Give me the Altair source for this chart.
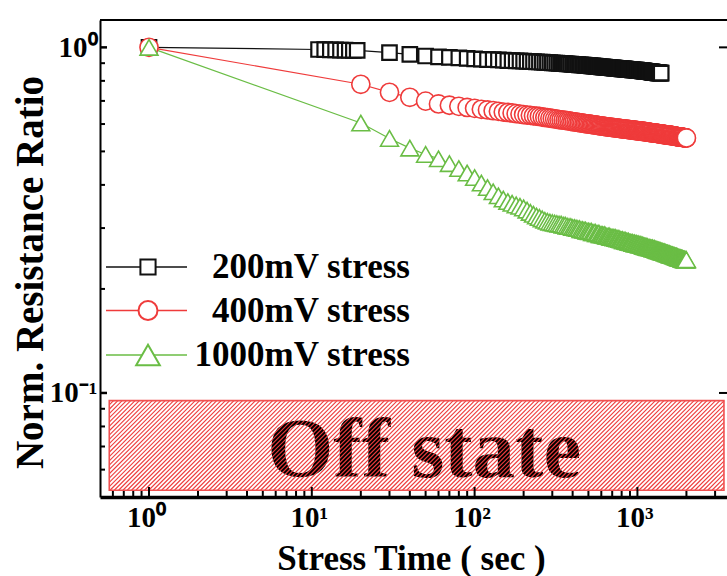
import math
import altair as alt
import pandas as pd

# ---------------- data ----------------
SERIES = ["200mV stress", "400mV stress", "1000mV stress"]
COLORS = ["#111111", "#ef3b3b", "#6abd45"]
SHAPES = ["square", "circle", "triangle-up"]
MARK_SIZES = [210, 330, 320]
MARK_STROKES = [2.2, 1.6, 1.6]
LEGEND_SIZES = [230, 360, 560]

# stress times (s): a reading every 10 s
t_200 = [1, 11, 12, 13, 14, 15, 16, 17, 18, 19] + list(range(30, 1401, 10))
t_400 = [1] + list(range(20, 2001, 10))
t_1000 = [1] + list(range(20, 2001, 10))

r_200 = [
    1.000,
    0.986, 0.985, 0.984, 0.983, 0.982, 0.982, 0.981, 0.980, 0.980,
    0.965, 0.954, 0.944, 0.939, 0.935, 0.932, 0.929, 0.926,
    0.924, 0.922, 0.921, 0.920, 0.918, 0.916, 0.915, 0.914, 0.914, 0.912,
    0.911, 0.910, 0.909, 0.908, 0.907, 0.906, 0.905, 0.904, 0.903, 0.902,
    0.901, 0.900, 0.899, 0.898, 0.897, 0.897, 0.896, 0.895, 0.894, 0.893,
    0.893, 0.892, 0.891, 0.890, 0.890, 0.889, 0.888, 0.887, 0.887, 0.886,
    0.885, 0.884, 0.884, 0.883, 0.882, 0.881, 0.881, 0.880, 0.879, 0.878,
    0.878, 0.877, 0.877, 0.876, 0.875, 0.875, 0.874, 0.873, 0.873, 0.872,
    0.872, 0.871, 0.871, 0.870, 0.870, 0.869, 0.869, 0.868, 0.868, 0.867,
    0.867, 0.866, 0.866, 0.865, 0.865, 0.864, 0.864, 0.863, 0.863, 0.863,
    0.862, 0.862, 0.861, 0.861, 0.860, 0.860, 0.860, 0.859, 0.859, 0.858,
    0.858, 0.858, 0.857, 0.857, 0.856, 0.856, 0.855, 0.855, 0.855, 0.854,
    0.854, 0.853, 0.853, 0.852, 0.852, 0.851, 0.851, 0.850, 0.850, 0.850,
    0.849, 0.849, 0.848, 0.848, 0.847, 0.847, 0.846, 0.846, 0.846, 0.846,
    0.845, 0.845, 0.844, 0.844, 0.844, 0.843, 0.843, 0.843, 0.842, 0.842,
]

r_400 = [
    1.000,
    0.782, 0.741, 0.717, 0.699, 0.686, 0.680, 0.675, 0.670, 0.666,
    0.662, 0.659, 0.656, 0.653, 0.650, 0.648, 0.646, 0.643, 0.641, 0.639,
    0.637, 0.636, 0.634, 0.632, 0.631, 0.629, 0.627, 0.626, 0.624, 0.623,
    0.621, 0.620, 0.618, 0.617, 0.616, 0.615, 0.614, 0.613, 0.611, 0.610,
    0.609, 0.608, 0.607, 0.606, 0.605, 0.604, 0.603, 0.602, 0.601, 0.601,
    0.600, 0.599, 0.598, 0.597, 0.597, 0.596, 0.595, 0.594, 0.593, 0.593,
    0.592, 0.591, 0.591, 0.590, 0.589, 0.589, 0.588, 0.588, 0.587, 0.587,
    0.586, 0.586, 0.585, 0.585, 0.584, 0.584, 0.583, 0.583, 0.582, 0.582,
    0.581, 0.581, 0.580, 0.580, 0.580, 0.579, 0.579, 0.579, 0.578, 0.578,
    0.577, 0.577, 0.577, 0.576, 0.576, 0.576, 0.575, 0.575, 0.574, 0.574,
    0.574, 0.573, 0.573, 0.573, 0.572, 0.572, 0.572, 0.571, 0.571, 0.571,
    0.570, 0.570, 0.570, 0.569, 0.569, 0.569, 0.568, 0.568, 0.568, 0.568,
    0.567, 0.567, 0.567, 0.566, 0.566, 0.566, 0.565, 0.565, 0.565, 0.565,
    0.564, 0.564, 0.564, 0.563, 0.563, 0.563, 0.562, 0.562, 0.562, 0.562,
    0.561, 0.561, 0.561, 0.560, 0.560, 0.560, 0.559, 0.559, 0.559, 0.559,
    0.558, 0.558, 0.558, 0.558, 0.557, 0.557, 0.557, 0.557, 0.556, 0.556,
    0.556, 0.556, 0.555, 0.555, 0.555, 0.555, 0.554, 0.554, 0.554, 0.554,
    0.553, 0.553, 0.553, 0.553, 0.552, 0.552, 0.552, 0.552, 0.551, 0.551,
    0.551, 0.551, 0.550, 0.550, 0.550, 0.550, 0.550, 0.549, 0.549, 0.549,
    0.549, 0.549, 0.548, 0.548, 0.548, 0.548, 0.547, 0.547, 0.547, 0.547,
]

r_1000 = [
    1.000,
    0.604, 0.545, 0.511, 0.490, 0.476, 0.461, 0.446, 0.433, 0.420,
    0.405, 0.393, 0.382, 0.372, 0.364, 0.358, 0.354, 0.350, 0.347, 0.343,
    0.338, 0.333, 0.329, 0.325, 0.322, 0.319, 0.316, 0.314, 0.312, 0.311,
    0.310, 0.309, 0.308, 0.308, 0.306, 0.306, 0.304, 0.303, 0.303, 0.301,
    0.301, 0.300, 0.299, 0.299, 0.297, 0.297, 0.296, 0.296, 0.294, 0.294,
    0.293, 0.294, 0.291, 0.291, 0.292, 0.289, 0.289, 0.290, 0.287, 0.287,
    0.287, 0.286, 0.287, 0.285, 0.284, 0.284, 0.285, 0.283, 0.282, 0.282,
    0.282, 0.281, 0.282, 0.280, 0.280, 0.279, 0.280, 0.278, 0.278, 0.277,
    0.278, 0.276, 0.276, 0.277, 0.275, 0.275, 0.274, 0.275, 0.273, 0.273,
    0.273, 0.272, 0.273, 0.271, 0.271, 0.272, 0.270, 0.270, 0.271, 0.269,
    0.269, 0.270, 0.268, 0.268, 0.269, 0.267, 0.267, 0.268, 0.266, 0.266,
    0.266, 0.265, 0.266, 0.264, 0.265, 0.264, 0.263, 0.264, 0.263, 0.263,
    0.263, 0.262, 0.262, 0.263, 0.261, 0.261, 0.262, 0.260, 0.260, 0.261,
    0.259, 0.260, 0.259, 0.258, 0.259, 0.258, 0.258, 0.257, 0.258, 0.257,
    0.256, 0.257, 0.256, 0.256, 0.255, 0.256, 0.255, 0.254, 0.255, 0.254,
    0.254, 0.253, 0.254, 0.253, 0.253, 0.252, 0.253, 0.252, 0.251, 0.252,
    0.251, 0.251, 0.250, 0.251, 0.250, 0.250, 0.249, 0.250, 0.249, 0.249,
    0.249, 0.248, 0.248, 0.249, 0.247, 0.248, 0.247, 0.247, 0.246, 0.247,
    0.246, 0.246, 0.246, 0.245, 0.246, 0.245, 0.245, 0.244, 0.245, 0.244,
    0.244, 0.244, 0.243, 0.244, 0.243, 0.243, 0.243, 0.242, 0.243, 0.243,
]

assert len(t_200) == len(r_200) and len(t_400) == len(r_400) and len(t_1000) == len(r_1000)

# off-state region (time and ratio bounds) and its label
OFF_T = [0.57, 3400]
OFF_R = [0.0523, 0.095]
OFF_LABEL = "Off state"
OFF_LABEL_POS = [49, 0.057]

X_MAJOR = [1, 10, 100, 1000]
X_MINOR = [0.6, 0.7, 0.8, 0.9, 2, 3, 4, 5, 6, 7, 8, 9, 20, 30, 40, 50, 60, 70, 80, 90,
           200, 300, 400, 500, 600, 700, 800, 900, 2000, 3000]
Y_MAJOR = [0.1, 1]
Y_MINOR = [0.06, 0.07, 0.08, 0.09, 0.2, 0.3, 0.4, 0.5, 0.6, 0.7, 0.8, 0.9]

X_LABELS = ["10⁰", "10¹", "10²", "10³"]
Y_LABELS = ["10⁻¹", "10⁰"]

# ---------------- tables ----------------
rows = []
idx = 0
for name, msize, sw, ts, rs in zip(SERIES, MARK_SIZES, MARK_STROKES,
                                   [t_200, t_400, t_1000], [r_200, r_400, r_1000]):
    for t, r in zip(ts, rs):
        rows.append({"series": name, "t": t, "r": r, "msize": msize, "sw": sw, "idx": idx})
        idx += 1
df = pd.DataFrame(rows)

W, H = 627, 477
FONT = "Liberation Serif"
X_DOMAIN = [0.5, 3550]
Y_DOMAIN = [0.05, 1.2]

xscale = alt.Scale(type="log", domain=X_DOMAIN, nice=False)
yscale = alt.Scale(type="log", domain=Y_DOMAIN, nice=False)
cscale = alt.Scale(domain=SERIES, range=COLORS)
sscale = alt.Scale(domain=SERIES, range=SHAPES)

x_expr = " : ".join(
    f"datum.value == {v} ? '{lab}'" for v, lab in zip(X_MAJOR, X_LABELS)
) + " : ''"
y_expr = " : ".join(
    f"datum.value == {v} ? '{lab}'" for v, lab in zip(Y_MAJOR, Y_LABELS)
) + " : ''"

x_axis = alt.Axis(
    values=X_MAJOR, labelExpr=x_expr, ticks=False, grid=False,
    domainColor="black", domainWidth=3.5,
    labelFont=FONT, labelFontSize=29, labelFontWeight="bold", labelColor="black",
    labelPadding=6, labelOffset=-3, labelFlush=False, labelOverlap=False,
    title="Stress Time ( sec )", titleFont=FONT, titleFontSize=35, titleFontWeight="bold",
    titleColor="black", titleX=311, titleY=61, titleAlign="center", titleBaseline="middle",
)
y_axis = alt.Axis(
    values=Y_MAJOR, labelExpr=y_expr, ticks=False, grid=False,
    domainColor="black", domainWidth=2,
    labelFont=FONT, labelFontSize=29, labelFontWeight="bold", labelColor="black",
    labelPadding=3, labelFlush=False, labelOverlap=False,
    title="Norm. Resistance Ratio", titleFont=FONT, titleFontSize=39, titleFontWeight="bold",
    titleColor="black", titleAngle=-90, titleX=-70, titleY=252, titleAlign="center",
    titleBaseline="middle",
)

# ---------------- hatch lines (decoration of the off-state box, in pixels) ----------------
def _px(t):
    return (math.log10(t) - math.log10(X_DOMAIN[0])) / (math.log10(X_DOMAIN[1]) - math.log10(X_DOMAIN[0])) * W

def _py(r):
    return (math.log10(Y_DOMAIN[1]) - math.log10(r)) / (math.log10(Y_DOMAIN[1]) - math.log10(Y_DOMAIN[0])) * H

bl, br = _px(OFF_T[0]), _px(OFF_T[1])
bt, bb = _py(OFF_R[1]), _py(OFF_R[0])
HATCH_STEP = 4.3
hatch_rows = []
c = bl + bt + HATCH_STEP
while c < br + bb:
    xs = max(bl, c - bb)
    xe = min(br, c - bt)
    if xe > xs:
        hatch_rows.append({"hx": xs, "hy": c - xs, "hx2": xe, "hy2": c - xe})
    c += HATCH_STEP
hatch_df = pd.DataFrame(hatch_rows)

# ---------------- layers ----------------
off_df = pd.DataFrame({"t0": [OFF_T[0]], "t1": [OFF_T[1]], "r0": [OFF_R[0]], "r1": [OFF_R[1]]})
off_text_df = pd.DataFrame({"t": [OFF_LABEL_POS[0]], "r": [OFF_LABEL_POS[1]], "label": [OFF_LABEL]})

off_text = alt.Chart(off_text_df).mark_text(
    font=FONT, fontSize=85, fontWeight="bold", color="black", align="center", baseline="alphabetic"
).encode(
    x=alt.X("t:Q", scale=xscale, axis=x_axis),
    y=alt.Y("r:Q", scale=yscale, axis=y_axis),
    text="label:N",
)

hatch = alt.Chart(hatch_df).mark_rule(color="#ee3c3c", strokeWidth=1.1).encode(
    x=alt.X("hx:Q", scale=None, axis=None),
    y=alt.Y("hy:Q", scale=None, axis=None),
    x2="hx2:Q",
    y2="hy2:Q",
)

off_box = alt.Chart(off_df).mark_rect(
    fill="transparent", stroke="#f05050", strokeWidth=1.6
).encode(
    x=alt.X("t0:Q", scale=xscale, axis=x_axis),
    x2="t1:Q",
    y=alt.Y("r0:Q", scale=yscale, axis=y_axis),
    y2="r1:Q",
)

lines = alt.Chart(df).mark_line(strokeWidth=1.2).encode(
    x=alt.X("t:Q", scale=xscale, axis=x_axis),
    y=alt.Y("r:Q", scale=yscale, axis=y_axis),
    stroke=alt.Stroke("series:N", scale=cscale, legend=None),
    detail="series:N",
    order="t:Q",
)

points = alt.Chart(df).mark_point(
    filled=False, fill="white", fillOpacity=1, opacity=1
).encode(
    x=alt.X("t:Q", scale=xscale, axis=x_axis),
    y=alt.Y("r:Q", scale=yscale, axis=y_axis),
    stroke=alt.Stroke("series:N", scale=cscale, legend=None),
    shape=alt.Shape("series:N", scale=sscale, legend=None),
    size=alt.Size("msize:Q", scale=None, legend=None),
    strokeWidth=alt.StrokeWidth("sw:Q", scale=None, legend=None),
    order=alt.Order("idx:Q"),
)

xmaj = alt.Chart(pd.DataFrame({"v": X_MAJOR})).mark_rule(color="black", strokeWidth=2).encode(
    x=alt.X("v:Q", scale=xscale, axis=x_axis), y=alt.value(H), y2=alt.value(H - 10))
xmin = alt.Chart(pd.DataFrame({"v": X_MINOR})).mark_rule(color="black", strokeWidth=2).encode(
    x=alt.X("v:Q", scale=xscale, axis=x_axis), y=alt.value(H), y2=alt.value(H - 6))
ymaj = alt.Chart(pd.DataFrame({"v": Y_MAJOR})).mark_rule(color="black", strokeWidth=2.5).encode(
    y=alt.Y("v:Q", scale=yscale, axis=y_axis), x=alt.value(0), x2=alt.value(7))
ymin = alt.Chart(pd.DataFrame({"v": Y_MINOR})).mark_rule(color="black", strokeWidth=2).encode(
    y=alt.Y("v:Q", scale=yscale, axis=y_axis), x=alt.value(0), x2=alt.value(5))
ymaj_r = alt.Chart(pd.DataFrame({"v": Y_MAJOR})).mark_rule(color="black", strokeWidth=2).encode(
    y=alt.Y("v:Q", scale=yscale, axis=y_axis), x=alt.value(W), x2=alt.value(W - 8))

top_border = alt.Chart(pd.DataFrame({"v": [0]})).mark_rule(color="black", strokeWidth=2).encode(
    y=alt.value(0), x=alt.value(0), x2=alt.value(W))

# manual legend (layout in pixels)
leg_df = pd.DataFrame({
    "series": SERIES,
    "label": SERIES,
    "ly": [247, 290.5, 335],
    "lsize": LEGEND_SIZES,
})
leg_lines = alt.Chart(leg_df).mark_rule(strokeWidth=1.5).encode(
    x=alt.value(6), x2=alt.value(87),
    y=alt.Y("ly:Q", scale=None, axis=None),
    stroke=alt.Stroke("series:N", scale=cscale, legend=None),
)
leg_pts = alt.Chart(leg_df).mark_point(
    filled=False, fill="white", fillOpacity=1, opacity=1, strokeWidth=2
).encode(
    x=alt.value(48),
    y=alt.Y("ly:Q", scale=None, axis=None),
    stroke=alt.Stroke("series:N", scale=cscale, legend=None),
    shape=alt.Shape("series:N", scale=sscale, legend=None),
    size=alt.Size("lsize:Q", scale=None, legend=None),
)
leg_text = alt.Chart(leg_df).mark_text(
    font=FONT, fontSize=35, fontWeight="bold", color="black", align="right", baseline="middle"
).encode(
    x=alt.value(310),
    y=alt.Y("ly:Q", scale=None, axis=None),
    text="label:N",
)

chart = alt.layer(
    off_text, hatch, off_box, lines, points, xmaj, xmin, ymaj, ymin, ymaj_r, top_border,
    leg_lines, leg_pts, leg_text,
).properties(
    width=W, height=H,
    autosize=alt.AutoSizeParams(type="none"),
    padding={"left": 100, "top": 20, "right": 0, "bottom": 79},
    background="white",
).configure_view(strokeWidth=0)

chart.save("out.html", embed_options={"renderer": "svg", "actions": False})
